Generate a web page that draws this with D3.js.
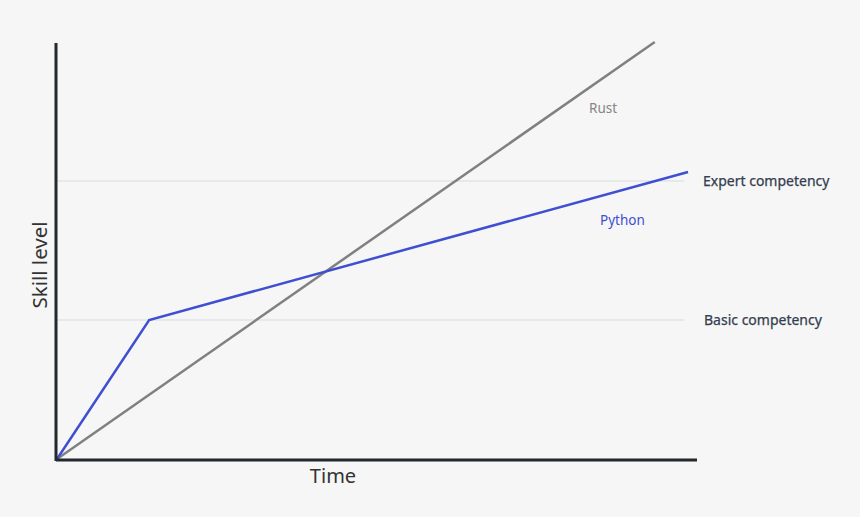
<!DOCTYPE html>
<html><head><meta charset="utf-8">
<script src="https://cdn.jsdelivr.net/npm/d3@7"></script>
<style>html,body{margin:0;padding:0;background:#f6f6f6;}svg{display:block;}</style>
</head><body>
<svg id="chart" width="860" height="517"></svg>
<script>
const rustX = [0, 9.34];
const rustY = [0, 3.0];
const pythonX = [0, 1.44, 9.86];
const pythonY = [0, 1.0, 2.065];
const levelValues = [1, 2];
const levelLabels = ["Basic competency", "Expert competency"];
const seriesNames = ["Rust", "Python"];
const xLabel = "Time";
const yLabel = "Skill level";

const svg = d3.select("#chart");
svg.append("rect").attr("width",860).attr("height",517).attr("fill","#f6f6f6");
const x = d3.scaleLinear().domain([0,10]).range([57,697]);
const y = d3.scaleLinear().domain([0,3]).range([459,42]);
const font = "'Noto Sans', 'Open Sans', sans-serif";

// grid lines
svg.selectAll(".grid").data(levelValues).enter().append("line")
  .attr("x1", x(0)).attr("x2", x(9.8))
  .attr("y1", d=>y(d)).attr("y2", d=>y(d))
  .attr("stroke","#d3dce2").attr("stroke-width",1.2);
svg.selectAll(".lvl").data(levelValues).enter().append("text")
  .attr("x", (d,i)=> i===0 ? 704 : 703).attr("y", d=>y(d)+5)
  .attr("font-family",font).attr("font-size",14).attr("fill","#343d4f")
  .attr("stroke","#343d4f").attr("stroke-width",0.25)
  .text((d,i)=>levelLabels[i]);

const line = d3.line().x(d=>x(d[0])).y(d=>y(d[1]));
svg.append("path").datum(rustX.map((v,i)=>[v,rustY[i]])).attr("d",line)
  .attr("fill","none").attr("stroke","#808080").attr("stroke-width",2.5);
svg.append("path").datum(pythonX.map((v,i)=>[v,pythonY[i]])).attr("d",line)
  .attr("fill","none").attr("stroke","#3f4fd1").attr("stroke-width",2.5);

// axes
svg.append("line").attr("x1",x(0)-1).attr("x2",x(10)).attr("y1",y(0)+1).attr("y2",y(0)+1)
  .attr("stroke","#22282c").attr("stroke-width",3);
svg.append("line").attr("x1",x(0)-1).attr("x2",x(0)-1).attr("y1",y(3)+1).attr("y2",y(0)+2)
  .attr("stroke","#22282c").attr("stroke-width",3);

// series labels
svg.append("text").attr("x",589).attr("y",113).attr("font-family",font).attr("font-size",13.5)
  .attr("fill","#858585").text(seriesNames[0]);
svg.append("text").attr("x",600).attr("y",225).attr("font-family",font).attr("font-size",13.5)
  .attr("fill","#3f4fd1").text(seriesNames[1]);

// axis titles
svg.append("text").attr("x",333).attr("y",483).attr("text-anchor","middle")
  .attr("font-family",font).attr("font-size",20).attr("fill","#333").text(xLabel);
svg.append("text").attr("transform","translate(47,265) rotate(-90)").attr("text-anchor","middle")
  .attr("font-family",font).attr("font-size",20.5).attr("fill","#333").text(yLabel);
</script>
</body></html>
